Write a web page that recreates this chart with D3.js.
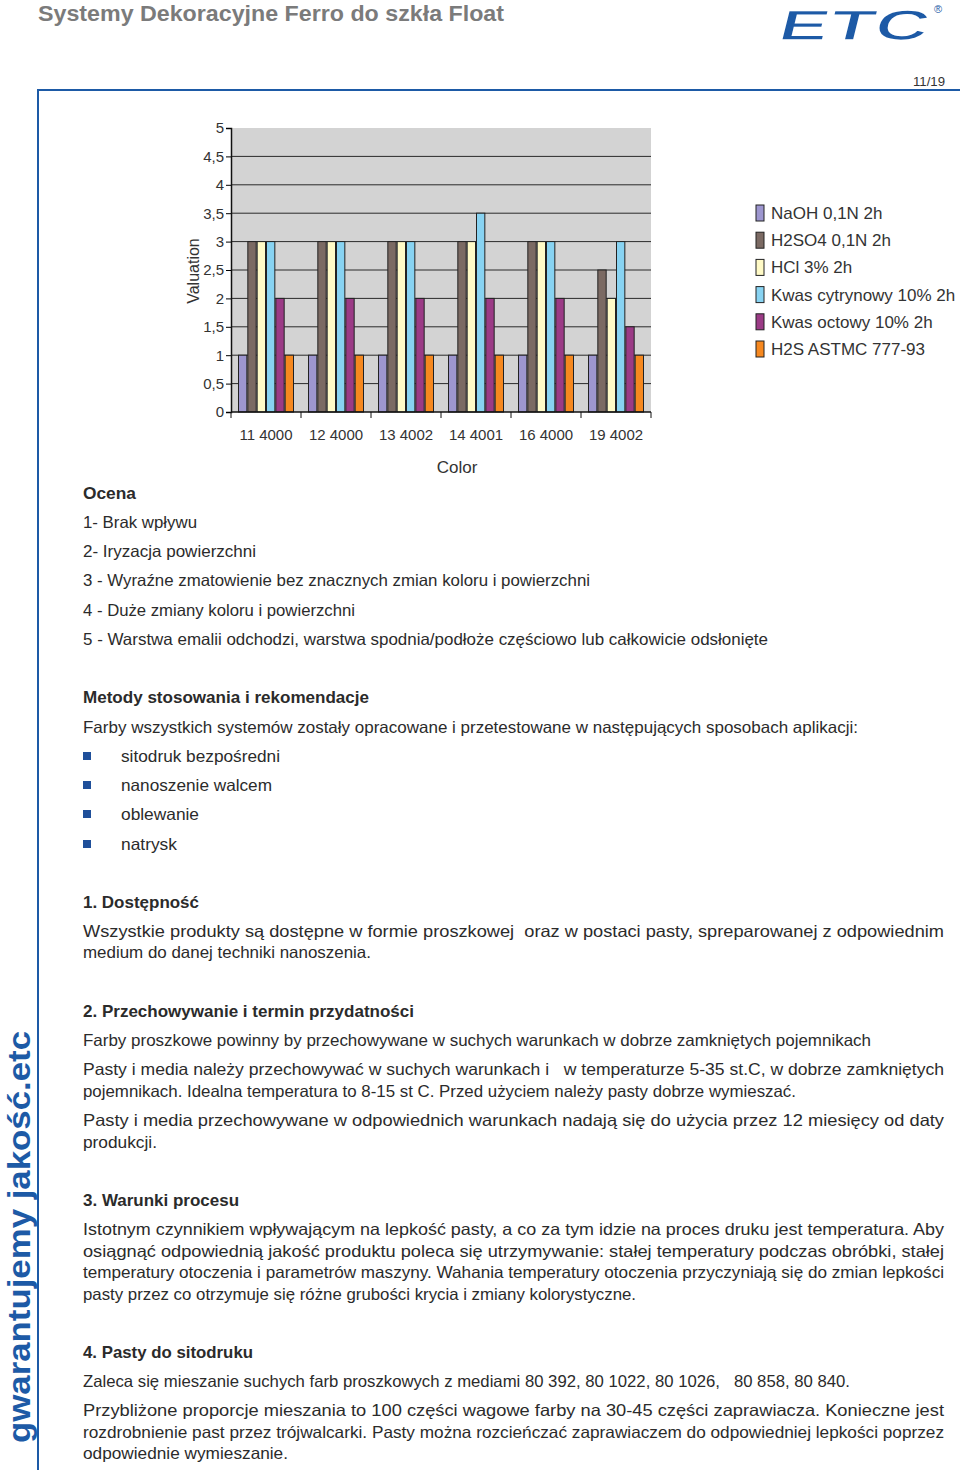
<!DOCTYPE html>
<html>
<head>
<meta charset="utf-8">
<script src="https://cdn.jsdelivr.net/npm/d3@7"></script>
<style>
  body { margin: 0; background: #fff; }
  svg { display: block; }
  .chart text { font-family: "Liberation Sans", Arial, sans-serif; fill: #333; }
  .body text { font-family: "Liberation Sans", Arial, sans-serif; fill: #2b2b2b; font-size: 16.5px; }
</style>
</head>
<body>
<div id="chart"></div>
<script>
const width = 960
const height = 1474

// data
const colors = ["11 4000", "12 4000", "13 4002", "14 4001", "16 4000", "19 4002"]
const series = ["NaOH 0,1N 2h", "H2SO4 0,1N 2h", "HCl 3% 2h", "Kwas cytrynowy 10% 2h", "Kwas octowy 10% 2h", "H2S ASTMC 777-93"]
const naoh = [1, 1, 1, 1, 1, 1]
const h2so4 = [3, 3, 3, 3, 3, 2.5]
const hcl = [3, 3, 3, 3, 3, 2]
const cytrynowy = [3, 3, 3, 3.5, 3, 3]
const octowy = [2, 2, 2, 2, 2, 1.5]
const h2s = [1, 1, 1, 1, 1, 1]
const yTicks = [0, 0.5, 1, 1.5, 2, 2.5, 3, 3.5, 4, 4.5, 5]
const fills = ["#9d96cf", "#7b6a63", "#fffac6", "#88d3f2", "#9b3b86", "#f6881f"]

const values = [naoh, h2so4, hcl, cytrynowy, octowy, h2s]
const data = colors.map((c, i) => ({ color: c, vals: series.map((s, j) => ({ key: s, idx: j, v: values[j][i] })) }))

const margin = { top: 128, left: 231 }
const w = 420, h = 284
const blue = "#1d5aa6"

const svg = d3.select("div#chart").append("svg").attr("width", width).attr("height", height)

// ---- page header
svg.append("text").text("Systemy Dekoracyjne Ferro do szkła Float")
    .attr("x", 38).attr("y", 21)
    .attr("textLength", 466).attr("lengthAdjust", "spacingAndGlyphs")
    .style("font-family", "'Liberation Sans', Arial, sans-serif")
    .style("font-weight", "bold").style("font-size", "22px").style("fill", "#7b7b7b")

const logo = svg.append("g").attr("transform", "translate(766, 40) skewX(-14)")
logo.append("text").text("ETC").attr("x", 10).attr("y", 0)
    .attr("textLength", 150).attr("lengthAdjust", "spacingAndGlyphs")
    .style("font-family", "'Liberation Sans', Arial, sans-serif")
    .style("font-weight", "bold").style("font-size", "43px")
    .style("fill", blue).style("stroke", "#fff").style("stroke-width", 1.5)
svg.append("text").text("®").attr("x", 934).attr("y", 13)
    .style("font-family", "'Liberation Sans', Arial, sans-serif").style("font-size", "11px").style("fill", blue)

svg.append("text").text("11/19").attr("x", 945).attr("y", 86).attr("text-anchor", "end")
    .attr("textLength", 32).attr("lengthAdjust", "spacingAndGlyphs")
    .style("font-family", "'Liberation Sans', Arial, sans-serif")
    .style("font-size", "13px").style("fill", "#333")

// frame
svg.append("path").attr("d", `M38,1470 V90 H960`).attr("fill", "none")
    .attr("stroke", blue).attr("stroke-width", 2)

svg.append("text").text("gwarantujemy jakość.etc")
    .attr("transform", "translate(30, 1443) rotate(-90)")
    .attr("textLength", 412).attr("lengthAdjust", "spacingAndGlyphs")
    .style("font-family", "'Liberation Sans', Arial, sans-serif")
    .style("font-weight", "bold").style("font-size", "31px").style("fill", blue)

// ---- chart
const chart = svg.append("g").attr("class", "chart")
const elementGroup = chart.append("g").attr("transform", `translate(${margin.left}, ${margin.top})`)

const x0 = d3.scaleBand().domain(colors).range([0, w]).paddingInner(0.2).paddingOuter(0.1)
const x1 = d3.scaleBand().domain(series).range([0, x0.bandwidth()])
const y = d3.scaleLinear().domain([0, 5]).range([h, 0])

elementGroup.append("rect").attr("width", w).attr("height", h).attr("fill", "#d3d3d3")

elementGroup.selectAll("line.grid").data(yTicks.filter(d => d > 0 && d < 5)).enter().append("line")
    .attr("class", "grid")
    .attr("x1", 0).attr("x2", w)
    .attr("y1", d => y(d)).attr("y2", d => y(d))
    .attr("stroke", "#2a2a2a").attr("stroke-width", 1)

const groups = elementGroup.selectAll("g.group").data(data).enter().append("g")
    .attr("class", "group")
    .attr("transform", d => `translate(${x0(d.color)}, 0)`)

groups.selectAll("rect").data(d => d.vals).enter().append("rect")
    .attr("x", d => x1(d.key) + 0.5)
    .attr("y", d => y(d.v))
    .attr("width", x1.bandwidth() - 1)
    .attr("height", d => h - y(d.v))
    .attr("fill", d => fills[d.idx])
    .attr("stroke", "#222").attr("stroke-width", 1)

const yAxis = d3.axisLeft(y).tickValues(yTicks)
    .tickFormat(d => String(d).replace(".", ","))
    .tickSize(5).tickPadding(2)
const yAxisGroup = elementGroup.append("g").call(yAxis)
yAxisGroup.select(".domain").attr("stroke", "#111").attr("stroke-width", 1.5)
yAxisGroup.selectAll("text").style("font-size", "15px").style("fill", "#333")

const xAxisGroup = elementGroup.append("g").attr("transform", `translate(0, ${h})`)
xAxisGroup.append("line").attr("x1", 0).attr("x2", w).attr("stroke", "#111").attr("stroke-width", 1.5)
xAxisGroup.selectAll("line.tick").data(d3.range(colors.length + 1)).enter().append("line")
    .attr("class", "tick")
    .attr("x1", d => d * x0.step()).attr("x2", d => d * x0.step())
    .attr("y1", 0).attr("y2", 6).attr("stroke", "#111")
xAxisGroup.selectAll("text").data(colors).enter().append("text")
    .text(d => d)
    .attr("x", d => x0(d) + x0.bandwidth() / 2)
    .attr("y", 28)
    .attr("text-anchor", "middle")
    .style("font-size", "15px")

chart.append("text").text("Color").attr("x", 457).attr("y", 473)
    .attr("text-anchor", "middle").style("font-size", "17px")
chart.append("text").text("Valuation")
    .attr("transform", "translate(199, 271) rotate(-90)")
    .attr("text-anchor", "middle").style("font-size", "16px")

// legend
const legend = chart.append("g").attr("transform", "translate(756, 213)")
const rows = legend.selectAll("g").data(series).enter().append("g")
    .attr("transform", (d, i) => `translate(0, ${i * 27.2})`)
rows.append("rect").attr("x", 0).attr("y", -8).attr("width", 8).attr("height", 16)
    .attr("fill", (d, i) => fills[i]).attr("stroke", "#222").attr("stroke-width", 1)
rows.append("text").text(d => d).attr("x", 15).attr("y", 6).style("font-size", "17px")

// ---- body text
const body = svg.append("g").attr("class", "body")
const lines = [
  { t: "Ocena", y: 493, e: 136, b: true },
  { t: "1- Brak wpływu", y: 522, e: 197 },
  { t: "2- Iryzacja powierzchni", y: 551, e: 256 },
  { t: "3 - Wyraźne zmatowienie bez znacznych zmian koloru i powierzchni", y: 580, e: 590 },
  { t: "4 - Duże zmiany koloru i powierzchni", y: 610, e: 355 },
  { t: "5 - Warstwa emalii odchodzi, warstwa spodnia/podłoże częściowo lub całkowicie odsłonięte", y: 639, e: 768 },
  { t: "Metody stosowania i rekomendacje", y: 697, e: 369, b: true },
  { t: "Farby wszystkich systemów zostały opracowane i przetestowane w następujących sposobach aplikacji:", y: 727, e: 858 },
  { t: "sitodruk bezpośredni", y: 756, e: 280, x: 121 },
  { t: "nanoszenie walcem", y: 785, e: 272, x: 121 },
  { t: "oblewanie", y: 814, e: 199, x: 121 },
  { t: "natrysk", y: 844, e: 177, x: 121 },
  { t: "1. Dostępność", y: 902, e: 199, b: true },
  { t: "Wszystkie produkty są dostępne w formie proszkowej  oraz w postaci pasty, spreparowanej z odpowiednim", y: 931, e: 944 },
  { t: "medium do danej techniki nanoszenia.", y: 952, e: 371 },
  { t: "2. Przechowywanie i termin przydatności", y: 1011, e: 414, b: true },
  { t: "Farby proszkowe powinny by przechowywane w suchych warunkach w dobrze zamkniętych pojemnikach", y: 1040, e: 871 },
  { t: "Pasty i media należy przechowywać w suchych warunkach i   w temperaturze 5-35 st.C, w dobrze zamkniętych", y: 1069, e: 944 },
  { t: "pojemnikach. Idealna temperatura to 8-15 st C. Przed użyciem należy pasty dobrze wymieszać.", y: 1091, e: 796 },
  { t: "Pasty i media przechowywane w odpowiednich warunkach nadają się do użycia przez 12 miesięcy od daty", y: 1120, e: 944 },
  { t: "produkcji.", y: 1142, e: 157 },
  { t: "3. Warunki procesu", y: 1200, e: 239, b: true },
  { t: "Istotnym czynnikiem wpływającym na lepkość pasty, a co za tym idzie na proces druku jest temperatura. Aby", y: 1229, e: 944 },
  { t: "osiągnąć odpowiednią jakość produktu poleca się utrzymywanie: stałej temperatury podczas obróbki, stałej", y: 1251, e: 944 },
  { t: "temperatury otoczenia i parametrów maszyny. Wahania temperatury otoczenia przyczyniają się do zmian lepkości", y: 1272, e: 944 },
  { t: "pasty przez co otrzymuje się różne grubości krycia i zmiany kolorystyczne.", y: 1294, e: 636 },
  { t: "4. Pasty do sitodruku", y: 1352, e: 253, b: true },
  { t: "Zaleca się mieszanie suchych farb proszkowych z mediami 80 392, 80 1022, 80 1026,   80 858, 80 840.", y: 1381, e: 850 },
  { t: "Przybliżone proporcje mieszania to 100 części wagowe farby na 30-45 części zaprawiacza. Konieczne jest", y: 1410, e: 944 },
  { t: "rozdrobnienie past przez trójwalcarki. Pasty można rozcieńczać zaprawiaczem do odpowiedniej lepkości poprzez", y: 1432, e: 944 },
  { t: "odpowiednie wymieszanie.", y: 1453, e: 288 }
]
body.selectAll("text").data(lines).enter().append("text")
    .text(d => d.t)
    .attr("x", d => d.x || 83)
    .attr("y", d => d.y + 6)
    .attr("textLength", d => d.e - (d.x || 83))
    .attr("lengthAdjust", "spacingAndGlyphs")
    .style("white-space", "pre")
    .style("font-weight", d => d.b ? "bold" : "normal")

body.selectAll("rect.bullet").data(lines.filter(d => d.x)).enter().append("rect")
    .attr("class", "bullet")
    .attr("x", 83).attr("y", d => d.y - 4)
    .attr("width", 8).attr("height", 8)
    .attr("fill", "#1f4f9a")
</script>
</body>
</html>
